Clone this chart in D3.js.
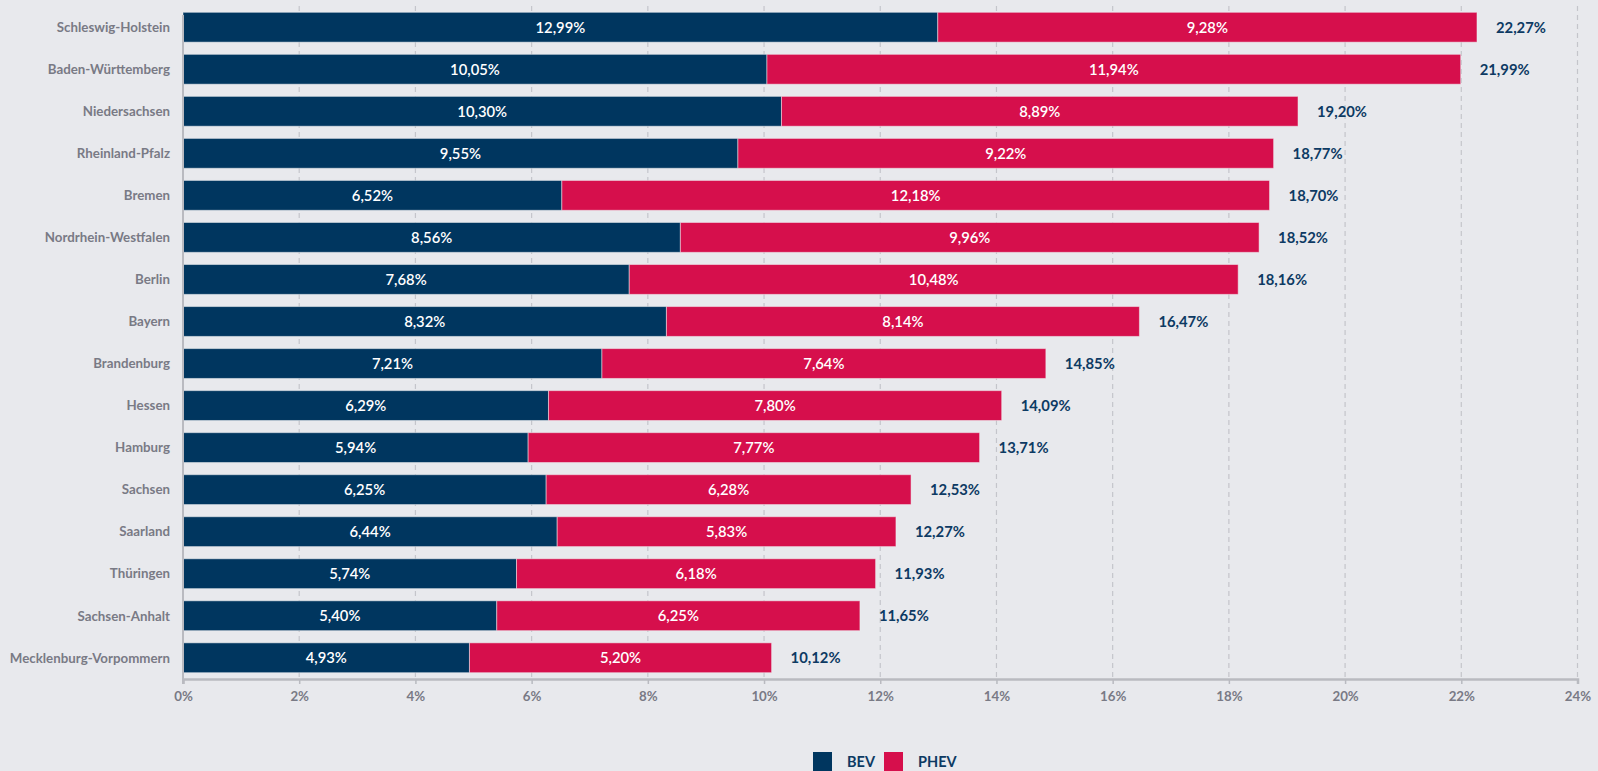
<!DOCTYPE html>
<html><head><meta charset="utf-8">
<script src="https://cdn.jsdelivr.net/npm/d3@7"></script>
<style>
html,body{margin:0;padding:0;background:#e8e9ed;}
svg{display:block;font-family:Lato, "Open Sans", sans-serif;}
</style></head>
<body>
<svg id="chart" width="1598" height="771"></svg>
<script>
const states = ["Schleswig-Holstein","Baden-Württemberg","Niedersachsen","Rheinland-Pfalz","Bremen","Nordrhein-Westfalen","Berlin","Bayern","Brandenburg","Hessen","Hamburg","Sachsen","Saarland","Thüringen","Sachsen-Anhalt","Mecklenburg-Vorpommern"];
const bev  = [12.99,10.05,10.30,9.55,6.52,8.56,7.68,8.32,7.21,6.29,5.94,6.25,6.44,5.74,5.40,4.93];
const phev = [9.28,11.94,8.89,9.22,12.18,9.96,10.48,8.14,7.64,7.80,7.77,6.28,5.83,6.18,6.25,5.20];
const totals = [22.27,21.99,19.20,18.77,18.70,18.52,18.16,16.47,14.85,14.09,13.71,12.53,12.27,11.93,11.65,10.12];
const xTicks = [0,2,4,6,8,10,12,14,16,18,20,22,24];
const seriesNames = ["BEV","PHEV"];
const colors = ["#00365f","#d60f4c"];

const fmt = v => v.toFixed(2).replace(".", ",") + "%";
const svg = d3.select("#chart");
const mLeft = 183, mRight = 1577.5, mTop = 6, mBottom = 679;

const x = d3.scaleLinear().domain([0,24]).range([mLeft,mRight]);
const y = d3.scaleBand().domain(states).range([mTop,mBottom]).paddingInner(0.29).paddingOuter(0.15);

svg.append("g").selectAll("line").data(xTicks.filter(t=>t>0)).join("line")
  .attr("x1",d=>x(d)).attr("x2",d=>x(d)).attr("y1",mTop).attr("y2",mBottom)
  .attr("stroke","#c4c5cb").attr("stroke-width",1.2).attr("stroke-dasharray","5,4");

const rows = states.map((s,i)=>({s, b:bev[i], p:phev[i], t:totals[i]}));

const g = svg.append("g");
g.selectAll("rect.bev").data(rows).join("rect").attr("class","bev")
  .attr("x",x(0)).attr("y",d=>y(d.s)).attr("width",d=>x(d.b)-x(0)).attr("height",y.bandwidth())
  .attr("fill",colors[0]).attr("stroke","#f2f3f6").attr("stroke-opacity",0.5).attr("stroke-width",1);
g.selectAll("rect.phev").data(rows).join("rect").attr("class","phev")
  .attr("x",d=>x(d.b)).attr("y",d=>y(d.s)).attr("width",d=>x(d.b+d.p)-x(d.b)).attr("height",y.bandwidth())
  .attr("fill",colors[1]).attr("stroke","#f2f3f6").attr("stroke-opacity",0.5).attr("stroke-width",1);

g.selectAll("text.bl").data(rows).join("text").attr("class","bl")
  .attr("x",d=>(x(0)+x(d.b))/2).attr("y",d=>y(d.s)+y.bandwidth()/2).attr("dy","0.36em")
  .attr("text-anchor","middle").attr("fill","#fff").attr("font-size",14.8).attr("font-weight",600)
  .text(d=>fmt(d.b));
g.selectAll("text.pl").data(rows).join("text").attr("class","pl")
  .attr("x",d=>(x(d.b)+x(d.b+d.p))/2).attr("y",d=>y(d.s)+y.bandwidth()/2).attr("dy","0.36em")
  .attr("text-anchor","middle").attr("fill","#fff").attr("font-size",14.8).attr("font-weight",600)
  .text(d=>fmt(d.p));
g.selectAll("text.tl").data(rows).join("text").attr("class","tl")
  .attr("x",d=>x(d.b+d.p)+19).attr("y",d=>y(d.s)+y.bandwidth()/2).attr("dy","0.36em")
  .attr("text-anchor","start").attr("fill","#0d3a63").attr("font-size",14.8).attr("font-weight",700)
  .text(d=>fmt(d.t));

svg.append("g").selectAll("text").data(states).join("text")
  .attr("x",170).attr("y",d=>y(d)+y.bandwidth()/2).attr("dy","0.36em")
  .attr("text-anchor","end").attr("fill","#797a85").attr("font-size",13.3).attr("font-weight",700)
  .text(d=>d);

svg.append("line").attr("x1",mLeft).attr("x2",mLeft).attr("y1",mTop+9).attr("y2",mBottom+5)
  .attr("stroke","#b9bac0").attr("stroke-width",2);
const xAxis = svg.append("g").attr("transform",`translate(0,${mBottom})`)
  .call(d3.axisBottom(x).tickValues(xTicks).tickFormat(d=>d+"%").tickSize(5).tickPadding(8));
xAxis.select(".domain").attr("stroke","#b9bac0").attr("stroke-width",2.5);
xAxis.selectAll(".tick line").attr("stroke","#b9bac0").attr("stroke-width",1.5);
xAxis.selectAll(".tick text").attr("fill","#797a85").attr("font-size",13.3).attr("font-weight",700)
  .attr("font-family","Lato, sans-serif");

const leg = svg.append("g");
const legX = [813, 884];
seriesNames.forEach((n,i)=>{
  leg.append("rect").attr("x",legX[i]).attr("y",752).attr("width",19).attr("height",19).attr("fill",colors[i]);
  leg.append("text").attr("x",legX[i]+34).attr("y",762).attr("dy","0.36em")
    .attr("fill","#0d3a63").attr("font-size",14.5).attr("font-weight",700).text(n);
});
</script>
</body></html>
